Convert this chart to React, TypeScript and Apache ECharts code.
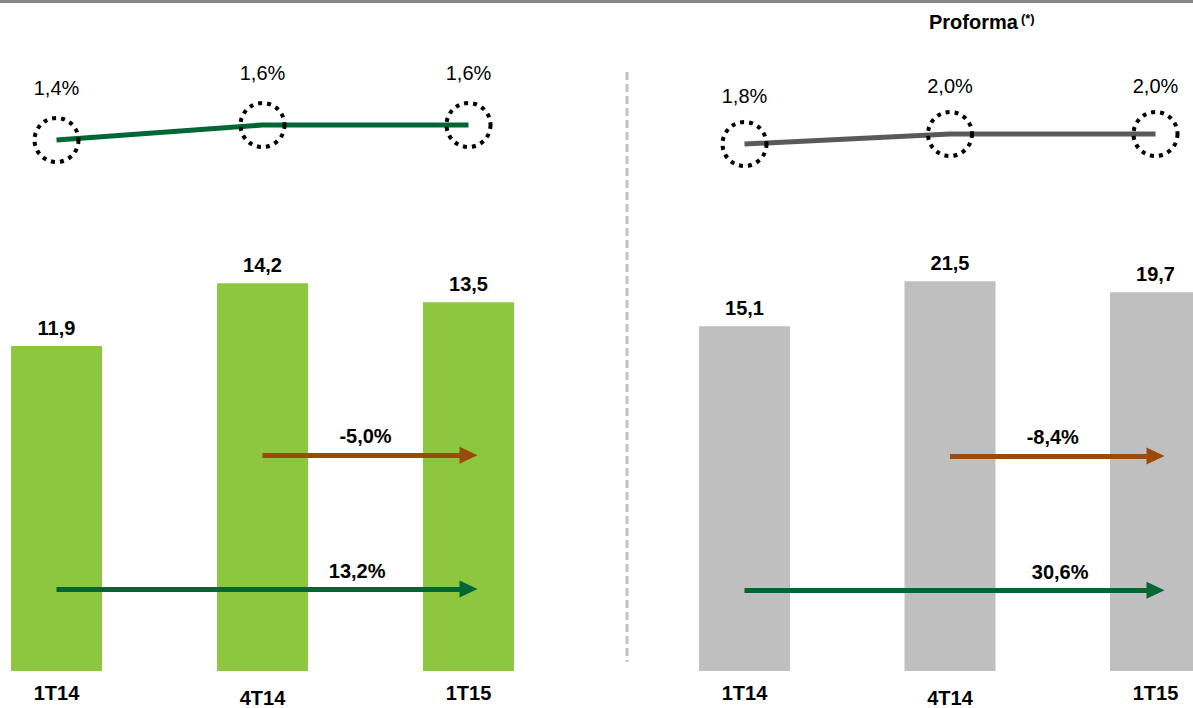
import React, { useEffect, useRef } from 'react';
import * as echarts from 'echarts';

// ---- data ----
const categories = ['1T14', '4T14', '1T15'];
const leftBars = [11.9, 14.2, 13.5];
const rightBars = [15.1, 21.5, 19.7];
const leftRatio = [1.4, 1.6, 1.6];
const rightRatio = [1.8, 2.0, 2.0];
// changes: [quarter-over-quarter (4T14 -> 1T15), year-over-year (1T14 -> 1T15)]
const leftChanges = [-5.0, 13.2];
const rightChanges = [-8.4, 30.6];
const titleText = 'Proforma';

// ---- layout / style ----
const W = 1193;
const H = 708;
const FONT = "'Liberation Sans', Arial, Helvetica, sans-serif";
const GREEN_BAR = '#8DC63F';
const GRAY_BAR = '#BFBFBF';
const DARK_GREEN = '#006633';
const BROWN = '#9C4A0A';
const GRAY_LINE = '#595959';
// arrow heights expressed in each bar panel's own value scale
const leftArrowLevels = [7.9, 3.0];
const rightArrowLevels = [5.43, 1.89];

const fmt = (v: number) => v.toFixed(1).replace('.', ',');

function arrows(levels: number[], changes: number[], yoyDistance: number) {
  const lbl = {
    show: true,
    color: '#000',
    fontFamily: FONT,
    fontSize: 20,
    fontWeight: 'bold' as const,
  };
  return {
    silent: true,
    animation: false,
    symbol: ['none', 'triangle'],
    symbolSize: [17, 18],
    data: [
      [
        {
          coord: [categories[1], levels[0]],
          lineStyle: { color: BROWN, width: 5, type: 'solid' },
          itemStyle: { color: BROWN },
          label: { ...lbl, position: 'insideMiddleTop', distance: 9, formatter: fmt(changes[0]) + '%' },
        },
        { coord: [categories[2], levels[0]] },
      ],
      [
        {
          coord: [categories[0], levels[1]],
          lineStyle: { color: DARK_GREEN, width: 5, type: 'solid' },
          itemStyle: { color: DARK_GREEN },
          label: { ...lbl, position: 'insideEndTop', distance: [yoyDistance, 8], formatter: fmt(changes[1]) + '%' },
        },
        { coord: [categories[2], levels[1]] },
      ],
    ],
  };
}

function barSeries(idx: number, data: number[], color: string, levels: number[], changes: number[], yoyDist: number) {
  return {
    type: 'bar',
    xAxisIndex: idx,
    yAxisIndex: idx,
    data,
    barWidth: 91,
    clip: false,
    silent: true,
    itemStyle: { color },
    label: {
      show: true,
      position: 'top',
      distance: 8,
      color: '#000',
      fontFamily: FONT,
      fontSize: 20,
      fontWeight: 'bold',
      formatter: (p: any) => fmt(p.value),
    },
    markLine: arrows(levels, changes, yoyDist),
  };
}

function lineSeries(idx: number, data: number[], color: string, labelDist: number) {
  return {
    type: 'line',
    xAxisIndex: idx,
    yAxisIndex: idx,
    data,
    silent: true,
    symbol: 'circle',
    symbolSize: 44,
    lineStyle: { color, width: 5 },
    itemStyle: {
      color: 'transparent',
      borderColor: '#000',
      borderWidth: 4,
      borderType: [4, 5],
    },
    label: {
      show: true,
      position: 'top',
      distance: labelDist,
      color: '#000',
      fontFamily: FONT,
      fontSize: 20,
      formatter: (p: any) => fmt(p.value) + '%',
    },
    z: 3,
  };
}

function catAxis(gridIndex: number, showLabels: boolean) {
  return {
    type: 'category',
    gridIndex,
    data: categories,
    boundaryGap: false,
    axisLine: { show: false },
    axisTick: { show: false },
    splitLine: { show: false },
    axisLabel: showLabels
      ? {
          show: true,
          margin: 12,
          interval: 0,
          formatter: (v: string, i: number) => (i === 1 ? `{low|${v}}` : `{n|${v}}`),
          rich: {
            n: { fontFamily: FONT, fontSize: 20, fontWeight: 'bold', color: '#000' },
            low: { fontFamily: FONT, fontSize: 20, fontWeight: 'bold', color: '#000', padding: [5, 0, 0, 0] },
          },
        }
      : { show: false },
  };
}

function valAxis(gridIndex: number, min: number, max: number, log = false) {
  return {
    type: log ? 'log' : 'value',
    logBase: 10,
    gridIndex,
    min,
    max,
    show: false,
    splitLine: { show: false },
  };
}

export default function App() {
  const ref = useRef<HTMLDivElement>(null);
  useEffect(() => {
    const chart = echarts.init(ref.current!, null, { renderer: 'svg' });
    const option: any = {
      animation: false,
      backgroundColor: '#fff',
      textStyle: { fontFamily: FONT },
      title: {
        text: `{a|${titleText}}{s|(*)}`,
        left: 929,
        top: 12,
        padding: 0,
        textStyle: {
          rich: {
            a: { fontFamily: FONT, fontSize: 20, fontWeight: 'bold', color: '#000' },
            s: { fontFamily: FONT, fontSize: 13, fontWeight: 'bold', color: '#000', verticalAlign: 'top', padding: [0, 0, 0, 3] },
          },
        },
      },
      grid: [
        { left: 56.5, right: W - 468.5, top: 204, bottom: 26 },
        { left: 744.5, right: W - 1155.5, top: 204, bottom: 26 },
        { left: 56.5, right: W - 468.5, top: 65, bottom: H - 200 },
        { left: 744.5, right: W - 1155.5, top: 64, bottom: H - 204 },
      ],
      xAxis: [catAxis(0, true), catAxis(1, true), catAxis(2, false), catAxis(3, false)],
      yAxis: [
        valAxis(0, 0, 17.1),
        valAxis(1, 1, 39.5, true),
        valAxis(2, 0.6, 2.4),
        valAxis(3, 0.6, 3.4),
      ],
      series: [
        barSeries(0, leftBars, GREEN_BAR, leftArrowLevels, leftChanges, 83),
        barSeries(1, rightBars, GRAY_BAR, rightArrowLevels, rightChanges, 67),
        lineSeries(2, leftRatio, DARK_GREEN, 18),
        lineSeries(3, rightRatio, GRAY_LINE, 14),
      ],
      graphic: [
        { type: 'rect', shape: { x: 0, y: 0, width: W, height: 3 }, style: { fill: '#878787' }, silent: true },
        {
          type: 'line',
          shape: { x1: 627, y1: 72, x2: 627, y2: 662 },
          style: { stroke: '#C0C0C0', lineWidth: 3, lineDash: [8, 4] },
          silent: true,
        },
      ],
    };
    chart.setOption(option);
    return () => chart.dispose();
  }, []);
  return (
    <div
      ref={ref}
      style={{ position: 'fixed', left: 0, top: 0, width: W, height: H, background: '#fff' }}
    />
  );
}
